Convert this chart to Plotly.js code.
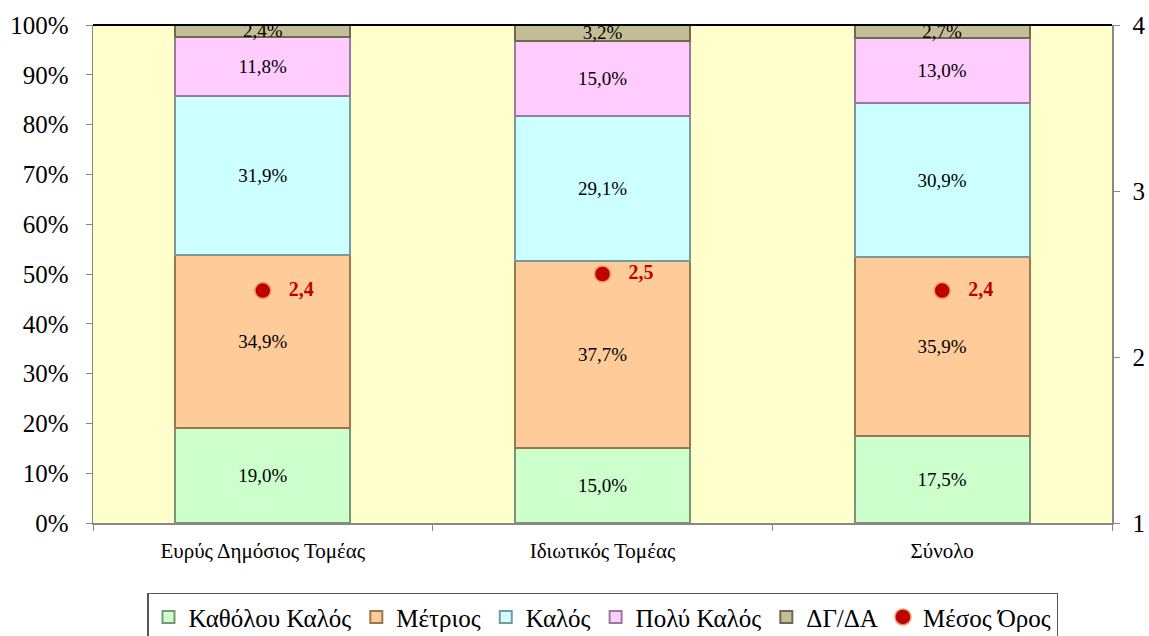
<!DOCTYPE html>
<html>
<head>
<meta charset="utf-8">
<script src="https://cdn.plot.ly/plotly-3.0.1.min.js"></script>
<style>html,body{margin:0;padding:0;background:#fff}#chart{width:1149px;height:636px}</style>
</head>
<body>
<div id="chart"></div>
<script>
const categories = ['Ευρύς Δημόσιος Τομέας', 'Ιδιωτικός Τομέας', 'Σύνολο'];
const seriesNames = ['Καθόλου Καλός', 'Μέτριος', 'Καλός', 'Πολύ Καλός', 'ΔΓ/ΔΑ'];
const katholouKalos = [19.0, 15.0, 17.5];
const metrios = [34.9, 37.7, 35.9];
const kalos = [31.9, 29.1, 30.9];
const polyKalos = [11.8, 15.0, 13.0];
const dgda = [2.4, 3.2, 2.7];
const mesosOros = [2.4, 2.5, 2.4];
const meanName = 'Μέσος Όρος';

const fills = ['#CCFFCC', '#FFCC99', '#CCFFFF', '#FFCCFF', '#C4BD97'];
const edges = ['#7A967A', '#9A7650', '#7A9A9A', '#9A7A9A', '#6E6A50'];
const serif = '"Liberation Serif", "Times New Roman", serif';
const fmt = v => v.toFixed(1).replace('.', ',');

const seriesValues = [katholouKalos, metrios, kalos, polyKalos, dgda];
const traces = seriesValues.map((vals, i) => ({
  type: 'bar',
  name: seriesNames[i],
  x: categories,
  y: vals,
  text: vals.map(v => fmt(v) + '%'),
  textposition: 'inside',
  insidetextanchor: 'middle',
  textangle: 0,
  constraintext: 'none',
  textfont: {family: serif, size: 19, color: '#000'},
  marker: {color: fills[i], line: {color: edges[i], width: 2}},
  hoverinfo: 'skip'
}));

traces.push({
  type: 'scatter',
  mode: 'markers+text',
  name: meanName,
  x: categories,
  y: mesosOros,
  yaxis: 'y2',
  text: mesosOros.map(v => '\u00a0\u00a0\u00a0<b>' + fmt(v) + '</b>'),
  textposition: 'middle right',
  textfont: {family: serif, size: 20, color: '#C00000'},
  marker: {size: 16, color: '#C00000', line: {color: '#E8A060', width: 1.5}},
  cliponaxis: false
});

const layout = {
  width: 1149, height: 636,
  margin: {l: 93, r: 37, t: 25, b: 113, autoexpand: false},
  paper_bgcolor: '#ffffff',
  plot_bgcolor: '#FFFFCC',
  barmode: 'stack',
  bargap: 0.485,
  showlegend: true,
  uniformtext: {mode: 'show', minsize: 19},
  font: {family: serif, color: '#000'},
  xaxis: {
    type: 'category',
    tickson: 'boundaries',
    ticks: 'outside', ticklen: 6, tickcolor: '#888',
    ticklabelstandoff: 8,
    showline: true, linecolor: '#888', linewidth: 1.5,
    showgrid: false,
    tickfont: {family: serif, size: 21, color: '#000'},
    fixedrange: true
  },
  yaxis: {
    range: [0, 100], dtick: 10, ticksuffix: '%',
    ticks: 'outside', ticklen: 6, tickcolor: '#888',
    ticklabelstandoff: 12,
    showline: true, linecolor: '#888', linewidth: 1.5,
    showgrid: false, zeroline: false,
    tickfont: {family: serif, size: 25, color: '#000'},
    fixedrange: true
  },
  yaxis2: {
    overlaying: 'y', side: 'right',
    range: [1, 4], dtick: 1,
    ticks: 'outside', ticklen: 6, tickcolor: '#888',
    ticklabelstandoff: 8,
    showline: true, linecolor: '#888', linewidth: 1.5,
    showgrid: false, zeroline: false,
    tickfont: {family: serif, size: 25, color: '#000'},
    fixedrange: true
  },
  legend: {
    orientation: 'h',
    x: 0.5, xanchor: 'center',
    y: -0.14, yanchor: 'top',
    bordercolor: '#555', borderwidth: 1.5,
    font: {family: serif, size: 25, color: '#000'},
    itemwidth: 30,
    tracegroupgap: 0,
    traceorder: 'normal'
  },
  shapes: [{
    type: 'line', xref: 'paper', yref: 'paper',
    x0: 0, x1: 1, y0: 1, y1: 1,
    line: {color: '#000', width: 2}
  }]
};

Plotly.newPlot('chart', traces, layout, {displayModeBar: false, staticPlot: true});
</script>
</body>
</html>
